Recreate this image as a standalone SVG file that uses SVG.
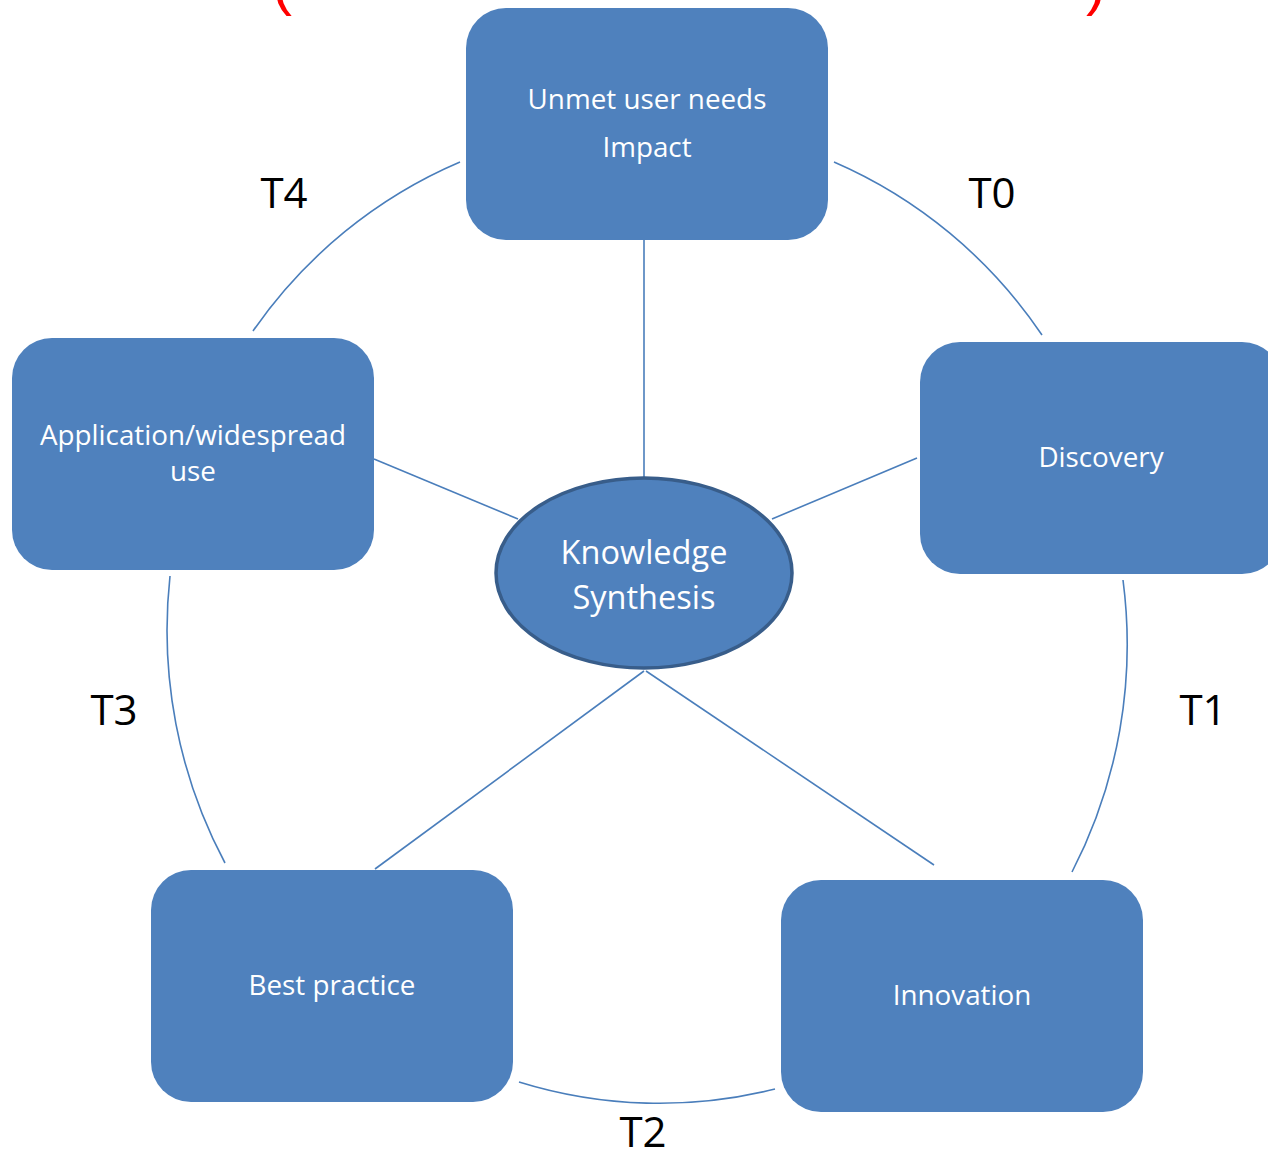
<svg xmlns="http://www.w3.org/2000/svg" width="1268" height="1150" viewBox="0 0 1268 1150">
  <style>
    .box { fill: #4F81BD; }
    .lbl { font-family: "Open Sans", "Liberation Sans", sans-serif; fill: #FFFFFF; text-anchor: middle; font-size: 27.8px; }
    .stage { font-family: "Open Sans", "Liberation Sans", sans-serif; fill: #000000; text-anchor: middle; font-size: 42px; }
    .conn { fill: none; stroke: #4A7EBB; stroke-width: 1.6; }
    .paren { font-family: "Liberation Sans", sans-serif; fill: #FF0000; font-size: 60px; }
  </style>
  <rect width="1268" height="1150" fill="#FFFFFF"/>

  <!-- red brackets, clipped at the top edge -->
  <text class="paren" x="272" y="4">(</text>
  <text class="paren" x="1086" y="4">)</text>

  <!-- connectors: hub spokes and outer cycle arcs -->
  <g id="connectors">
    <line class="conn" x1="644" y1="240" x2="644" y2="477"/>
    <line class="conn" x1="374" y1="459" x2="518" y2="519"/>
    <line class="conn" x1="917" y1="458" x2="772" y2="519"/>
    <line class="conn" x1="644" y1="671" x2="375" y2="869"/>
    <line class="conn" x1="646" y1="671" x2="934" y2="865"/>

    <path class="conn" d="M 834 162 A 481 489 0 0 1 1042 335"/>
    <path class="conn" d="M 1123 580 A 481 489 0 0 1 1072 872"/>
    <path class="conn" d="M 775 1089 A 481 489 0 0 1 519 1082"/>
    <path class="conn" d="M 225 863 A 481 489 0 0 1 170 576"/>
    <path class="conn" d="M 253 331 A 481 489 0 0 1 460 162"/>
  </g>

  <g id="node-impact">
    <rect class="box" x="466" y="8" width="362" height="232" rx="40" ry="40"/>
    <text class="lbl" x="647" y="109">Unmet user needs</text>
    <text class="lbl" x="647" y="157">Impact</text>
  </g>

  <g id="node-discovery">
    <rect class="box" x="920" y="342" width="362" height="232" rx="40" ry="40"/>
    <text class="lbl" x="1101" y="467">Discovery</text>
  </g>

  <g id="node-innovation">
    <rect class="box" x="781" y="880" width="362" height="232" rx="40" ry="40"/>
    <text class="lbl" x="962" y="1005">Innovation</text>
  </g>

  <g id="node-best-practice">
    <rect class="box" x="151" y="870" width="362" height="232" rx="40" ry="40"/>
    <text class="lbl" x="332" y="995">Best practice</text>
  </g>

  <g id="node-application">
    <rect class="box" x="12" y="338" width="362" height="232" rx="40" ry="40"/>
    <text class="lbl" x="193" y="445">Application/widespread</text>
    <text class="lbl" x="193" y="481">use</text>
  </g>

  <g id="node-synthesis">
    <ellipse cx="644" cy="573" rx="148" ry="95" fill="#4F81BD" stroke="#385D8A" stroke-width="3.5"/>
    <text class="lbl" x="644" y="564" style="font-size:32.5px">Knowledge</text>
    <text class="lbl" x="644" y="609" style="font-size:32.5px">Synthesis</text>
  </g>

  <!-- stage labels -->
  <g id="stage-labels">
    <text class="stage" x="992" y="208">T0</text>
    <text class="stage" x="1203" y="725">T1</text>
    <text class="stage" x="643" y="1147">T2</text>
    <text class="stage" x="114" y="725">T3</text>
    <text class="stage" x="284" y="208">T4</text>
  </g>
</svg>
